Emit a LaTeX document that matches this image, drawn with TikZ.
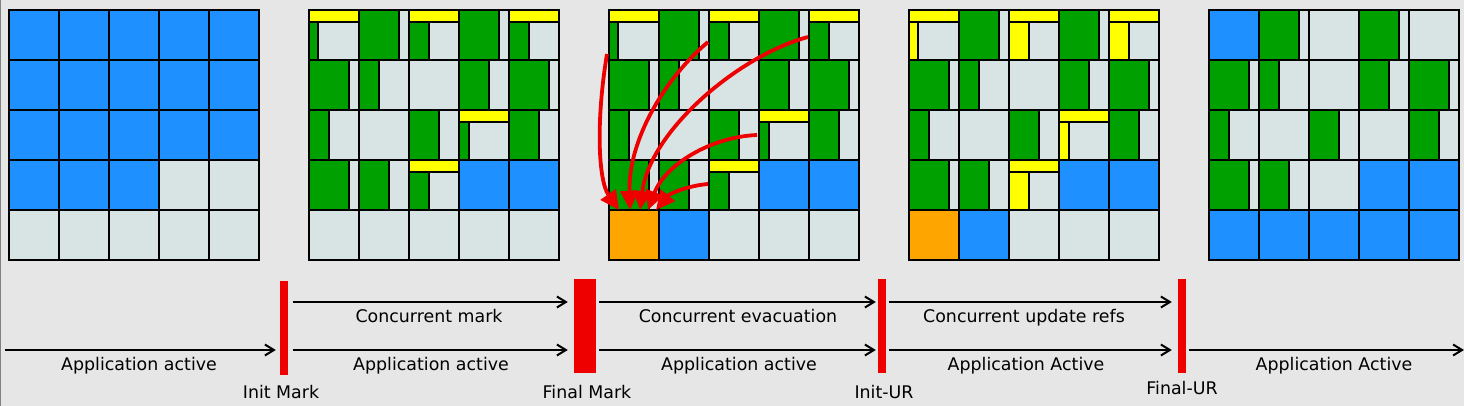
\documentclass[tikz,border=0pt]{standalone}
\usepackage{fontspec}
\setmainfont{DejaVu Sans}
\usetikzlibrary{arrows.meta}
\definecolor{bg}{RGB}{230,230,230}
\definecolor{cgray}{RGB}{216,228,228}
\definecolor{cgreen}{RGB}{0,160,0}
\definecolor{cblue}{RGB}{30,144,255}
\definecolor{cyel}{RGB}{255,255,0}
\definecolor{corange}{RGB}{255,165,0}
\definecolor{cred}{RGB}{238,0,0}
\tikzset{
  cl/.style={draw=black,line width=2.2pt},
  tl/.style={draw=black,line width=2pt,-{Straight Barb[length=9pt,width=11pt]}},
  redarr/.style={draw=cred,line width=3.8pt,-{Triangle[length=19pt,width=18pt]}},
  phasebar/.style={fill=cred,draw=none,inner sep=0pt,minimum height=94pt},
  lbl/.style={anchor=base,inner sep=0pt,font=\fontsize{17.4}{20}\selectfont},
}
% full cell
\newcommand\FullCell[4]{\begin{scope}[shift={({#1+(#2-1)*50},{10.2+(#3-1)*50})}]
  \draw[cl,fill=#4] (0,0) rectangle (50,50);\end{scope}}
\newcommand\cellB[4]{\FullCell{#1}{#2}{#3}{cblue}}
\newcommand\cellG[4]{\FullCell{#1}{#2}{#3}{cgray}}
\newcommand\cellO[4]{\FullCell{#1}{#2}{#3}{corange}}
% green strip on left
\newcommand\cellg[4]{\begin{scope}[shift={({#1+(#2-1)*50},{10.2+(#3-1)*50})}]
  \fill[cgray] (0,0) rectangle (50,50);
  \fill[cgreen] (0,0) rectangle (#4,50);
  \draw[cl] (#4,0) -- (#4,50);
  \draw[cl] (0,0) rectangle (50,50);\end{scope}}
% yellow top bar + strip
\newcommand\YBarCell[5]{\begin{scope}[shift={({#1+(#2-1)*50},{10.2+(#3-1)*50})}]
  \fill[cgray] (0,0) rectangle (50,50);
  \fill[cyel] (0,0) rectangle (50,12);
  \fill[#5] (0,12) rectangle (#4,50);
  \draw[cl] (0,12) -- (50,12);
  \draw[cl] (#4,12) -- (#4,50);
  \draw[cl] (0,0) rectangle (50,50);\end{scope}}
\newcommand\celly[4]{\YBarCell{#1}{#2}{#3}{#4}{cgreen}}
\newcommand\cellY[4]{\YBarCell{#1}{#2}{#3}{#4}{cyel}}
\newcommand\GridRow[3]{\foreach \cty/\cw [count=\cc] in {#3} {\csname cell\cty\endcsname{#1}{\cc}{#2}{\cw}}}

\begin{document}
\begin{tikzpicture}[x=1pt,y=-1pt]
\useasboundingbox (0,0) rectangle (1464,406);
\fill[bg] (0,0) rectangle (1464,406);
\draw[gray,line width=1pt] (0.5,0) -- (0.5,406);

% grid 1
\GridRow{9.2}{1}{B/0,B/0,B/0,B/0,B/0}
\GridRow{9.2}{2}{B/0,B/0,B/0,B/0,B/0}
\GridRow{9.2}{3}{B/0,B/0,B/0,B/0,B/0}
\GridRow{9.2}{4}{B/0,B/0,B/0,G/0,G/0}
\GridRow{9.2}{5}{G/0,G/0,G/0,G/0,G/0}
% grid 2
\GridRow{309.2}{1}{y/9,g/40,y/20,g/40,y/20}
\GridRow{309.2}{2}{g/40,g/20,G/0,g/30,g/40}
\GridRow{309.2}{3}{g/20,G/0,g/30,y/10,g/30}
\GridRow{309.2}{4}{g/40,g/30,y/20,B/0,B/0}
\GridRow{309.2}{5}{G/0,G/0,G/0,G/0,G/0}
% grid 3
\GridRow{609.2}{1}{y/9,g/40,y/20,g/40,y/20}
\GridRow{609.2}{2}{g/40,g/20,G/0,g/30,g/40}
\GridRow{609.2}{3}{g/20,G/0,g/30,y/10,g/30}
\GridRow{609.2}{4}{g/40,g/30,y/20,B/0,B/0}
\GridRow{609.2}{5}{O/0,B/0,G/0,G/0,G/0}
% grid 4
\GridRow{909.2}{1}{Y/9,g/40,Y/20,g/40,Y/20}
\GridRow{909.2}{2}{g/40,g/20,G/0,g/30,g/40}
\GridRow{909.2}{3}{g/20,G/0,g/30,Y/10,g/30}
\GridRow{909.2}{4}{g/40,g/30,Y/20,B/0,B/0}
\GridRow{909.2}{5}{O/0,B/0,G/0,G/0,G/0}
% grid 5
\GridRow{1209.2}{1}{B/0,g/40,G/0,g/40,G/0}
\GridRow{1209.2}{2}{g/40,g/20,G/0,g/30,g/40}
\GridRow{1209.2}{3}{g/20,G/0,g/30,G/0,g/30}
\GridRow{1209.2}{4}{g/40,g/30,G/0,B/0,B/0}
\GridRow{1209.2}{5}{B/0,B/0,B/0,B/0,B/0}

% evacuation arrows
\coordinate (a1) at (607,54);  \coordinate (t1) at (619,210);
\coordinate (a2) at (708,42);  \coordinate (t2) at (630,210);
\coordinate (a3) at (808,37);  \coordinate (t3) at (640,210);
\coordinate (a4) at (757,135); \coordinate (t4) at (648,210);
\coordinate (a5) at (708,184); \coordinate (t5) at (656,210);
\draw[redarr] (a1) .. controls (596,120) and (598,180) .. (t1);
\draw[redarr] (a2) .. controls (665,78) and (628,140) .. (t2);
\draw[redarr] (a3) .. controls (740,55) and (650,130) .. (t3);
\draw[redarr] (a4) .. controls (710,137) and (665,165) .. (t4);
\draw[redarr] (a5) .. controls (685,186) and (668,195) .. (t5);

% phase bars
\node[phasebar,minimum width=8pt] (im) at (284,328) {};
\node[phasebar,minimum width=22pt] (fm) at (585,326) {};
\node[phasebar,minimum width=8pt] (iu) at (882,326) {};
\node[phasebar,minimum width=8pt] (fu) at (1182,326) {};
\coordinate (s0) at (5,350);
\coordinate (e5) at (1464,350);

% arrows
\draw[tl,shorten >=4pt] (s0) -- (im.west |- s0);
\draw[tl,shorten <=5pt,shorten >=6pt] (im.east |- 0,302) -- (fm.west |- 0,302);
\draw[tl,shorten <=5pt,shorten >=6pt] (im.east |- s0) -- (fm.west |- s0);
\draw[tl,shorten <=3pt,shorten >=2pt] (fm.east |- 0,302) -- (iu.west |- 0,302);
\draw[tl,shorten <=3pt,shorten >=2pt] (fm.east |- s0) -- (iu.west |- s0);
\draw[tl,shorten <=3pt,shorten >=6pt] (iu.east |- 0,302) -- (fu.west |- 0,302);
\draw[tl,shorten <=3pt,shorten >=6pt] (iu.east |- s0) -- (fu.west |- s0);
\draw[tl,shorten <=3pt] (fu.east |- e5) -- (e5);

% labels
\node[lbl] (l1) at (139,370) {Application active};
\node[lbl] (l2) at (429,322) {Concurrent mark};
\node[lbl] (l3) at (431,370) {Application active};
\node[lbl] (l4) at (738,322) {Concurrent evacuation};
\node[lbl] (l5) at (739,370) {Application active};
\node[lbl] (l6) at (1024,322) {Concurrent update refs};
\node[lbl] (l7) at (1026,370) {Application Active};
\node[lbl] (l8) at (1334,370) {Application Active};
\node[lbl] (b1) at (281,398) {Init Mark};
\node[lbl] (b2) at (587,398) {Final Mark};
\node[lbl] (b3) at (884,398) {Init-UR};
\node[lbl] (b4) at (1182,394) {Final-UR};
\end{tikzpicture}
\end{document}
